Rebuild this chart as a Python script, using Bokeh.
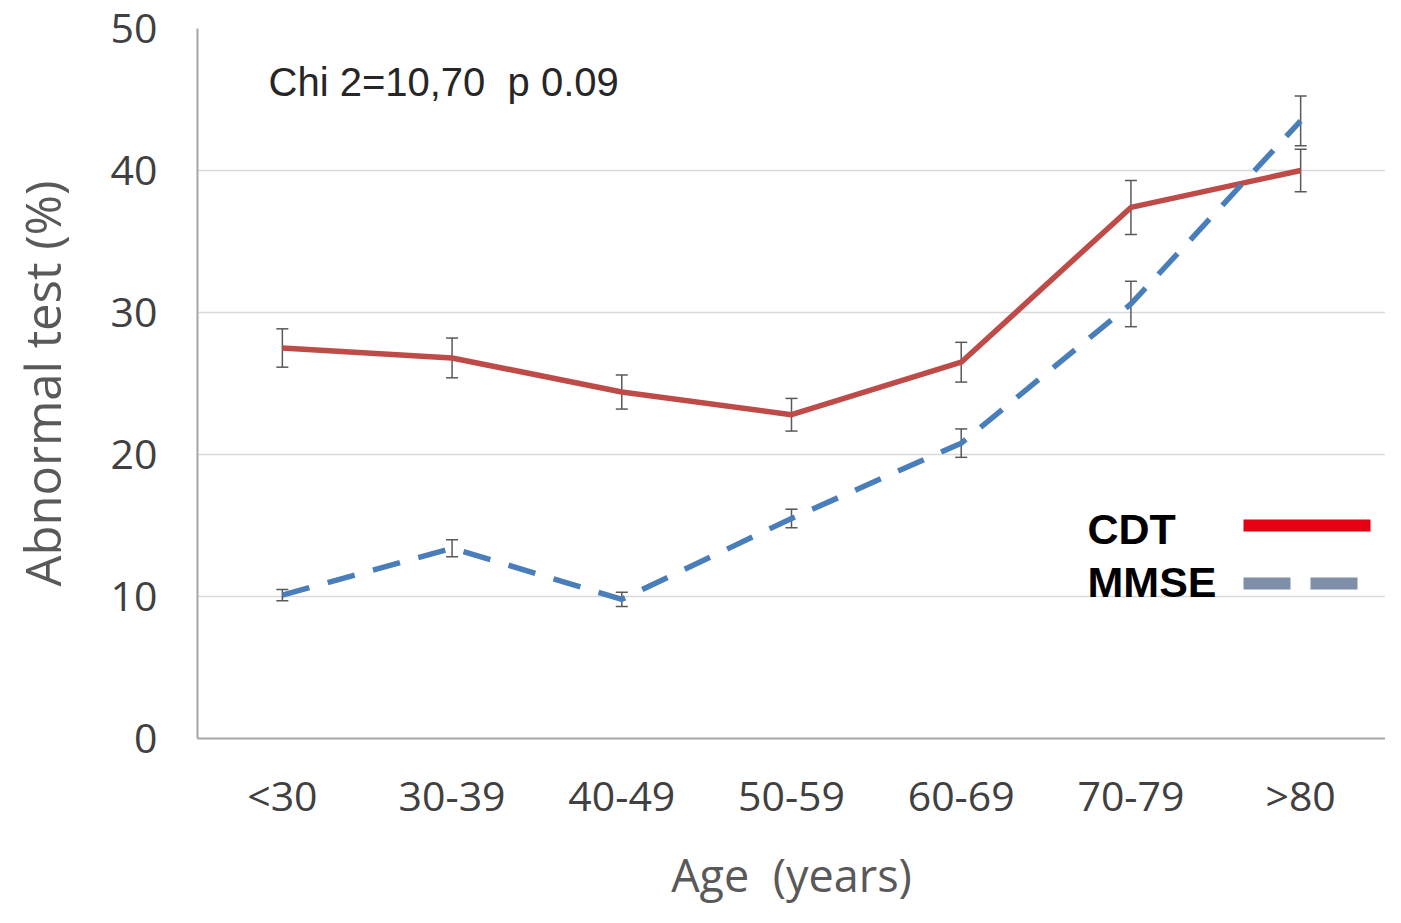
from bokeh.plotting import figure
from bokeh.models import (ColumnDataSource, Whisker, TeeHead, Label, Arrow,
                          FactorRange, Range1d, FixedTicker)
from bokeh.embed import file_html
from bokeh.resources import INLINE

# ---- data ----
ages = ["<30", "30-39", "40-49", "50-59", "60-69", "70-79", ">80"]
cdt = [27.5, 26.8, 24.4, 22.8, 26.5, 37.4, 40.0]
cdt_err = [1.35, 1.4, 1.2, 1.15, 1.4, 1.9, 1.5]
mmse = [10.1, 13.4, 9.8, 15.5, 20.8, 30.6, 43.5]
mmse_err = [0.4, 0.6, 0.5, 0.65, 1.0, 1.6, 1.75]
y_ticks = [0, 10, 20, 30, 40, 50]
stat_text = "Chi 2=10,70\u00a0 p 0.09"
series_names = ["CDT", "MMSE"]
x_title = "Age\u00a0 (years)"
y_title = "Abnormal test (%)"

CDT_COLOR = "#be4b48"
MMSE_COLOR = "#4a7ebb"
ERR_COLOR = "#595959"

p = figure(x_range=FactorRange(*ages), y_range=Range1d(0, 50),
           width=1385, height=907, output_backend="svg", toolbar_location=None,
           min_border_left=197, min_border_right=0, min_border_top=28,
           min_border_bottom=169)
p.outline_line_color = None
p.background_fill_color = "white"

src_c = ColumnDataSource(dict(x=ages, y=cdt,
                              lo=[v - e for v, e in zip(cdt, cdt_err)],
                              hi=[v + e for v, e in zip(cdt, cdt_err)]))
src_m = ColumnDataSource(dict(x=ages, y=mmse,
                              lo=[v - e for v, e in zip(mmse, mmse_err)],
                              hi=[v + e for v, e in zip(mmse, mmse_err)]))

p.line("x", "y", source=src_c, line_color=CDT_COLOR, line_width=5.5)
p.line("x", "y", source=src_m, line_color=MMSE_COLOR, line_width=5.5,
       line_dash="28 19")

for src in (src_c, src_m):
    w = Whisker(base="x", lower="lo", upper="hi", source=src, dimension="height",
                line_color=ERR_COLOR, line_width=1.5,
                upper_head=TeeHead(size=12, line_color=ERR_COLOR, line_width=1.5),
                lower_head=TeeHead(size=12, line_color=ERR_COLOR, line_width=1.5))
    p.add_layout(w)

# axes
p.yaxis.ticker = FixedTicker(ticks=y_ticks)
p.xgrid.grid_line_color = None
p.ygrid.grid_line_color = "#d9d9d9"
p.ygrid.grid_line_width = 1.5

for ax in (p.xaxis[0], p.yaxis[0]):
    ax.axis_line_color = "#a6a6a6"
    ax.axis_line_width = 2
    ax.major_tick_line_color = None
    ax.minor_tick_line_color = None
    ax.major_tick_out = 0
    ax.major_tick_in = 0
    ax.major_label_text_font = "Open Sans"
    ax.major_label_text_font_size = "41px"
    ax.major_label_text_color = "#404040"
    ax.axis_label_text_font = "Open Sans"
    ax.axis_label_text_font_style = "normal"
    ax.axis_label_text_color = "#595959"

p.xaxis.axis_label = x_title
p.yaxis.axis_label = y_title
p.xaxis.axis_label_text_font_size = "45px"
p.yaxis.axis_label_text_font_size = "49px"
p.yaxis.major_label_standoff = 40
p.yaxis.axis_label_standoff = 33
p.xaxis.major_label_standoff = 28
p.xaxis.axis_label_standoff = 18

# statistic text
p.add_layout(Label(x=71, y=657, x_units="screen", y_units="screen", text=stat_text,
                   text_font="Liberation Sans", text_font_size="40px",
                   text_color="#262626", text_baseline="alphabetic"))

# custom legend: label first, sample line after
p.add_layout(Label(x=890, y=210, x_units="screen", y_units="screen", text=series_names[0],
                   text_font="Liberation Sans", text_font_style="bold",
                   text_font_size="43px", text_color="black", text_baseline="alphabetic"))
p.add_layout(Label(x=890, y=157, x_units="screen", y_units="screen", text=series_names[1],
                   text_font="Liberation Sans", text_font_style="bold",
                   text_font_size="43px", text_color="black", text_baseline="alphabetic"))
p.add_layout(Arrow(end=None, x_start=1046, x_end=1173, y_start=213, y_end=213,
                   start_units="screen", end_units="screen",
                   line_color="#e60012", line_width=12))
p.add_layout(Arrow(end=None, x_start=1046, x_end=1163, y_start=155, y_end=155,
                   start_units="screen", end_units="screen",
                   line_color="#7f8fa9", line_width=12, line_dash="47 20"))

open("out.html", "w").write(file_html(p, INLINE))
